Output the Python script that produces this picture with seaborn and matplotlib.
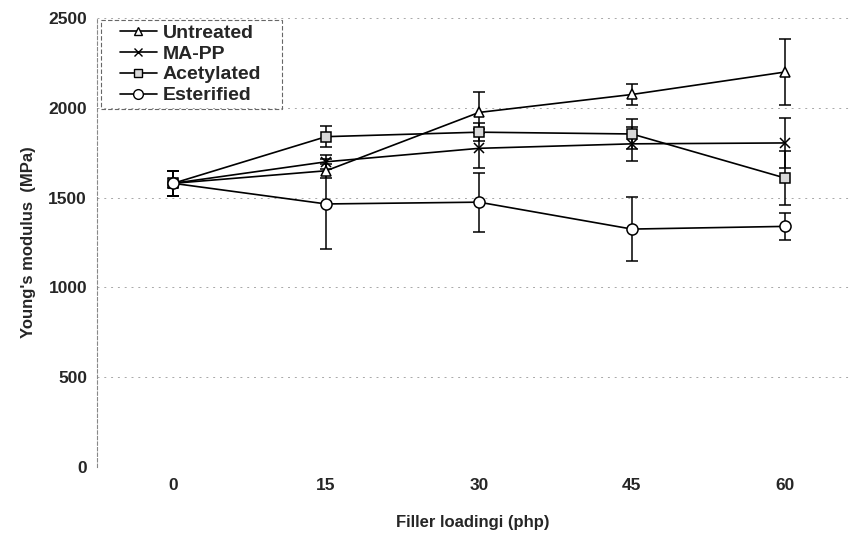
import numpy as np
import pandas as pd
import matplotlib
matplotlib.use("Agg")
import matplotlib.pyplot as plt
from matplotlib.patches import Rectangle
import seaborn as sns

# Young's modulus vs filler loading for four filler treatments
loading = ["0", "15", "30", "45", "60"]
untreated = [1580, 1650, 1975, 2075, 2200]
mapp = [1580, 1700, 1775, 1800, 1805]
acetylated = [1580, 1840, 1865, 1855, 1610]
esterified = [1580, 1465, 1475, 1325, 1340]

untreated_err = [70, 40, 115, 60, 185]
mapp_err = [70, 40, 110, 95, 140]
acetylated_err = [70, 60, 50, 85, 150]
esterified_err = [70, 250, 165, 180, 75]

series = ["Untreated", "MA-PP", "Acetylated", "Esterified"]
values = [untreated, mapp, acetylated, esterified]
errors = [untreated_err, mapp_err, acetylated_err, esterified_err]

sns.set_theme(style="white")
plt.rcParams["font.family"] = ["Liberation Sans", "DejaVu Sans"]

rows = []
for name, vals in zip(series, values):
    for i, v in enumerate(vals):
        rows.append({"pos": i, "modulus": v, "treatment": name})
df = pd.DataFrame(rows)

W, H = 849, 536
fig = plt.figure(figsize=(W / 100, H / 100), dpi=100)
ax = fig.add_axes([0.114, 0.129, 0.886, 0.837])

# faint dashed horizontal gridlines
for yv in range(0, 2501, 500):
    ax.axhline(yv, color="#a8a8a8", lw=0.7, ls=(0, (2, 5)), zorder=0)

styles = {
    "Untreated": dict(marker="^", mfc="white", ms=7),
    "MA-PP": dict(marker="x", mfc="none", ms=7),
    "Acetylated": dict(marker="s", mfc="#d8d8d8", ms=7),
    "Esterified": dict(marker="o", mfc="white", ms=8),
}

for name, vals, errs in zip(series, values, errors):
    ax.errorbar(range(len(loading)), vals, yerr=errs, fmt="none",
                ecolor="black", elinewidth=1.1, capsize=4, capthick=1.1,
                zorder=2)

handles = []
for name in series:
    sub = df[df["treatment"] == name]
    st = styles[name]
    sns.lineplot(data=sub, x="pos", y="modulus", ax=ax, color="black",
                 lw=1.2, marker=st["marker"], markersize=st["ms"],
                 markerfacecolor=st["mfc"], markeredgecolor="black",
                 markeredgewidth=1.1, zorder=3, legend=False)
    h, = ax.plot([], [], color="black", lw=1.2, marker=st["marker"],
                 markersize=st["ms"] - 1, markerfacecolor=st["mfc"],
                 markeredgecolor="black", markeredgewidth=1.0)
    handles.append(h)

ax.set_xlim(-0.5, 4.42)
ax.set_ylim(0, 2500)
ax.set_yticks(range(0, 2501, 500))
ax.set_xticks(range(len(loading)))
ax.set_xticklabels(loading)

for sp in ["top", "right"]:
    ax.spines[sp].set_visible(False)
ax.spines["bottom"].set_visible(False)
ax.spines["left"].set_color("#888888")
ax.spines["left"].set_linestyle((0, (3, 2)))
ax.spines["left"].set_linewidth(0.8)

ax.tick_params(axis="y", which="both", length=0, pad=7)
ax.tick_params(axis="x", which="both", length=0, pad=8)
for lab in ax.get_xticklabels() + ax.get_yticklabels():
    lab.set_fontweight("bold")
    lab.set_fontsize(12.5)

ax.set_xlabel("Filler loadingi (php)", fontsize=12, fontweight="bold",
              labelpad=16)
ax.set_ylabel("Young's modulus  (MPa)", fontsize=12, fontweight="bold",
              labelpad=9)

# legend entries without a frame, boxed by a separate dashed rectangle
leg = ax.legend(handles, series, loc="upper left",
                bbox_to_anchor=(120 / W, 1 - 24 / H),
                bbox_transform=fig.transFigure, frameon=False,
                handlelength=1.9, handletextpad=0.3, borderpad=0.0,
                labelspacing=0.17, borderaxespad=0.0,
                prop={"weight": "bold", "size": 14})
box = Rectangle((101 / W, 1 - 109 / H), 181 / W, 89 / H,
                transform=fig.transFigure, fill=False, edgecolor="#666666",
                linestyle=(0, (4, 2)), linewidth=0.8)
fig.add_artist(box)

fig.savefig("out.png", dpi=100)
